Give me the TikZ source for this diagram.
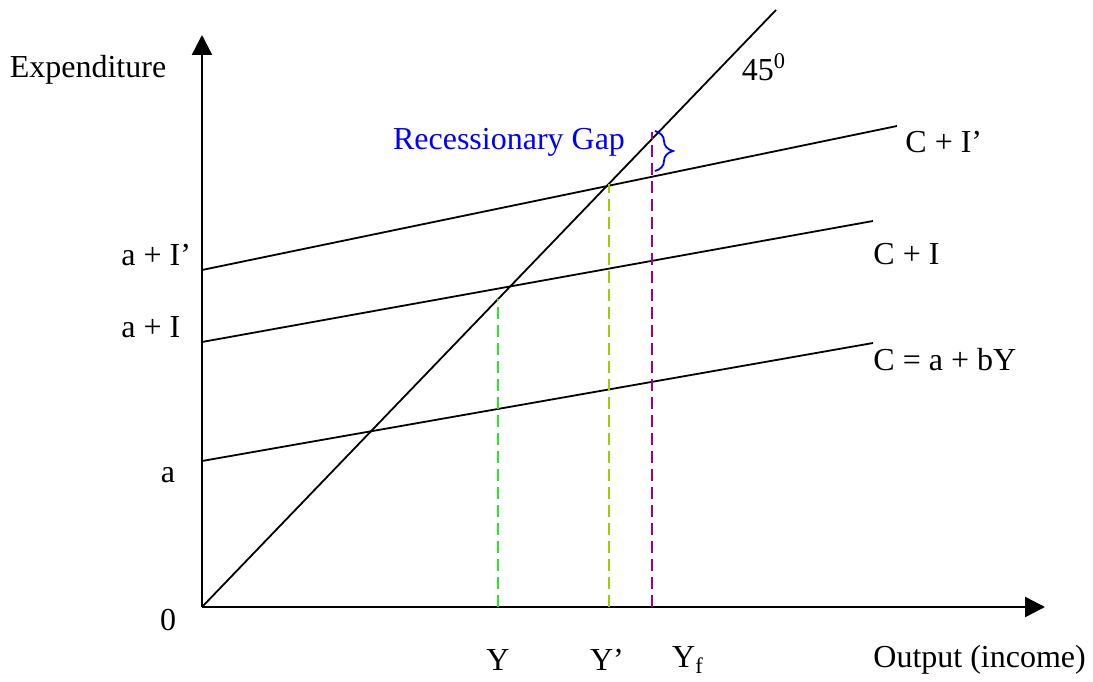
\documentclass[tikz,border=0pt]{standalone}
\usepackage{fontspec}
\setmainfont{Liberation Serif}
\usepackage{xcolor}
\usetikzlibrary{arrows.meta, decorations.pathreplacing}
\definecolor{gapblue}{RGB}{0,0,255}
\definecolor{ygreen}{RGB}{40,230,40}
\definecolor{ypgreen}{RGB}{160,205,0}
\definecolor{yfpurple}{RGB}{150,0,150}

\begin{document}
\begin{tikzpicture}[
        x=0.5pt, y=0.5pt,
        every node/.style={font=\fontsize{16}{19}\selectfont, inner sep=0pt},
        axis/.style={line width=1.2pt, -{Triangle[width=10pt, length=10pt]}},
        curve/.style={line width=0.9pt},
        guide/.style={dash pattern=on 6pt off 3pt, line width=1.2pt},
        tag/.style={anchor=west}
    ]
        \useasboundingbox (0,0) rectangle (1093,681);

        % Points
        \coordinate (o) at (202,74);
        \coordinate (ytop) at (202,646);
        \coordinate (xend) at (1045,74);
        \coordinate (diagend) at (776,671);
        \coordinate (cstart) at (202,220);
        \coordinate (cend) at (873,338);
        \coordinate (cistart) at (202,339);
        \coordinate (ciend) at (873,460);
        \coordinate (cipstart) at (202,411);
        \coordinate (cipend) at (897,555);
        \coordinate (ybase) at (498,74);
        \coordinate (ytopdash) at (498,382);
        \coordinate (ypbase) at (609,74);
        \coordinate (yptop) at (609,497);
        \coordinate (yfbase) at (652,74);
        \coordinate (yftop) at (652,549);
        \coordinate (gaptop) at (655,550);
        \coordinate (gapbot) at (655,510);

        % Nodes
        \node (expend) at (88,611) {Expenditure};
        \node (deg) at (764,614) {45\textsuperscript{0}};
        \node[text=gapblue] (gap) at (509,539) {Recessionary Gap};
        \node[tag] (cipl) at (905,539) {C + I’};
        \node[tag] (cil) at (873,427) {C + I};
        \node[tag] (cl) at (873,321) {C = a + bY};
        \node[tag] (aipl) at (121,426) {a + I’};
        \node[tag] (ail) at (121,354) {a + I};
        \node (al) at (168,206) {a};
        \node (zero) at (168,61) {0};
        \node (yl) at (498,21) {Y};
        \node (ypl) at (607,21) {Y’};
        \node (yfl) at (688,21) {Y\textsubscript{f}};
        \node[tag] (outl) at (873,21) {Output (income)};

        % Axes
        \draw[axis] (o) -- (ytop);
        \draw[axis] (o) -- (xend);

        % Lines
        \draw[curve] (o) -- (diagend);
        \draw[curve] (cstart) -- (cend);
        \draw[curve] (cistart) -- (ciend);
        \draw[curve] (cipstart) -- (cipend);

        % Guides
        \draw[guide, ygreen] (ybase) -- (ytopdash);
        \draw[guide, ypgreen] (ypbase) -- (yptop);
        \draw[guide, yfpurple] (yfbase) -- (yftop);
        \draw[gapblue, line width=0.9pt, decorate, decoration={brace, amplitude=9pt}] (gaptop) -- (gapbot);

    \end{tikzpicture}
\end{document}
